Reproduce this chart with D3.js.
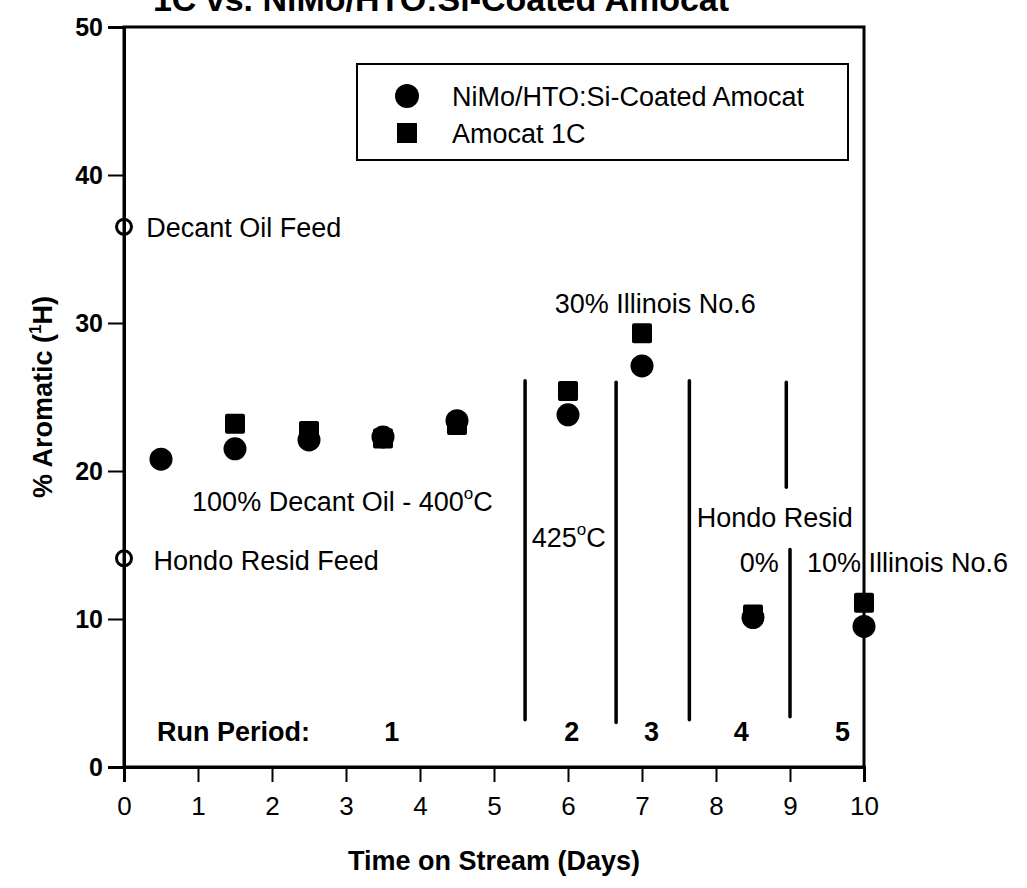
<!DOCTYPE html>
<html>
<head>
<meta charset="utf-8">
<script src="https://cdn.jsdelivr.net/npm/d3@7"></script>
<style>
  html, body { margin: 0; padding: 0; background: #fff; }
  svg { display: block; font-family: "Liberation Sans", Arial, sans-serif; }
</style>
</head>
<body>
<svg id="chart" width="1027" height="888"></svg>
<script>
// ---- data ----
const xTicks = [0, 1, 2, 3, 4, 5, 6, 7, 8, 9, 10];
const yTicks = [0, 10, 20, 30, 40, 50];

const nimoDays = [0.5, 1.5, 2.5, 3.5, 4.5, 6, 7, 8.5, 10];
const nimoValues = [20.8, 21.5, 22.1, 22.3, 23.4, 23.8, 27.1, 10.1, 9.5];

const amocatDays = [1.5, 2.5, 3.5, 4.5, 6, 7, 8.5, 10];
const amocatValues = [23.2, 22.7, 22.2, 23.1, 25.4, 29.3, 10.3, 11.1];

const feedNames = ["Decant Oil Feed", "Hondo Resid Feed"];
const feedDays = [0, 0];
const feedValues = [36.5, 14.1];

// vertical separators: x, y top, y bottom
const sepX = [5.42, 6.65, 7.64, 8.95, 9.0];
const sepTop = [26.1, 26.0, 26.1, 26.0, 14.7];
const sepBottom = [3.2, 3.0, 3.2, 18.9, 3.4];

const annoText = ["Decant Oil Feed", "Hondo Resid Feed", "100% Decant Oil - 400", "425", "30% Illinois No.6", "Hondo Resid", "0%", "10% Illinois No.6"];
const annoX = [0.3, 0.4, 0.92, 5.51, 5.82, 7.74, 8.32, 9.23];
const annoY = [35.8, 13.3, 17.3, 14.85, 30.7, 16.2, 13.2, 13.2];
const annoDegC = [false, false, true, true, false, false, false, false];

const periodLabels = ["1", "2", "3", "4", "5"];
const periodX = [3.62, 6.05, 7.13, 8.34, 9.71];
const periodY = 1.75;

const legendNames = ["NiMo/HTO:Si-Coated Amocat", "Amocat 1C"];

// ---- layout ----
const svg = d3.select("#chart");
const x = d3.scaleLinear().domain([0, 10]).range([124, 864]);
const y = d3.scaleLinear().domain([0, 50]).range([767, 27]);

// title (cut off at top, as in the reference)
svg.append("text")
  .attr("x", 441).attr("y", 11)
  .attr("text-anchor", "middle")
  .attr("font-size", 34).attr("font-weight", "bold")
  .text("1C vs. NiMo/HTO:Si-Coated Amocat");

// frame
svg.append("rect")
  .attr("x", x(0)).attr("y", y(50))
  .attr("width", x(10) - x(0)).attr("height", y(0) - y(50))
  .attr("fill", "none").attr("stroke", "#000").attr("stroke-width", 3);

// axes
const xAxis = svg.append("g").attr("transform", `translate(0,${y(0)})`)
  .call(d3.axisBottom(x).tickValues(xTicks).tickSize(15).tickPadding(15).tickFormat(d3.format("d")));
const yAxis = svg.append("g").attr("transform", `translate(${x(0)},0)`)
  .call(d3.axisLeft(y).tickValues(yTicks).tickSize(16).tickPadding(5).tickFormat(d3.format("d")));
[xAxis, yAxis].forEach(g => {
  g.select(".domain").attr("stroke-width", 3);
  g.selectAll(".tick line").attr("stroke-width", 2);
  g.selectAll(".tick text").attr("fill", "#000")
    .attr("font-family", "Liberation Sans, Arial, sans-serif");
});
xAxis.selectAll(".tick text").attr("font-size", 26);
yAxis.selectAll(".tick text").attr("font-size", 25).attr("font-weight", "bold");

// axis titles
svg.append("text")
  .attr("x", 494).attr("y", 870)
  .attr("text-anchor", "middle")
  .attr("font-size", 27).attr("font-weight", "bold")
  .text("Time on Stream (Days)");

const yt = svg.append("text")
  .attr("transform", `translate(52,${397}) rotate(-90)`)
  .attr("text-anchor", "middle")
  .attr("font-size", 27).attr("font-weight", "bold");
yt.append("tspan").text("% Aromatic (");
yt.append("tspan").attr("font-size", 17).attr("dy", -11).text("1");
yt.append("tspan").attr("dy", 11).text("H)");

// separators
svg.selectAll("line.sep").data(sepX).enter().append("line")
  .attr("class", "sep")
  .attr("x1", d => x(d)).attr("x2", d => x(d))
  .attr("y1", (d, i) => y(sepTop[i])).attr("y2", (d, i) => y(sepBottom[i]))
  .attr("stroke", "#000").attr("stroke-width", 3.5).attr("stroke-linecap", "round");

// annotations
annoText.forEach((t, i) => {
  const tx = svg.append("text")
    .attr("x", x(annoX[i])).attr("y", y(annoY[i]))
    .attr("font-size", 27);
  tx.append("tspan").text(t);
  if (annoDegC[i]) {
    tx.append("tspan").attr("font-size", 17).attr("dy", -12).text("o");
    tx.append("tspan").attr("dy", 12).text("C");
  }
});

// run period labels
svg.append("text")
  .attr("x", 157).attr("y", y(periodY))
  .attr("font-size", 27).attr("font-weight", "bold")
  .text("Run Period:");
svg.selectAll("text.period").data(periodLabels).enter().append("text")
  .attr("class", "period")
  .attr("x", (d, i) => x(periodX[i])).attr("y", y(periodY))
  .attr("text-anchor", "middle")
  .attr("font-size", 27).attr("font-weight", "bold")
  .text(d => d);

// feed points (open circles)
svg.selectAll("circle.feed").data(feedValues).enter().append("circle")
  .attr("class", "feed")
  .attr("cx", (d, i) => x(feedDays[i])).attr("cy", d => y(d))
  .attr("r", 7.5).attr("fill", "none").attr("stroke", "#000").attr("stroke-width", 3);

// Amocat squares
const sq = 20;
svg.selectAll("rect.amocat").data(amocatValues).enter().append("rect")
  .attr("class", "amocat")
  .attr("x", (d, i) => x(amocatDays[i]) - sq / 2).attr("y", d => y(d) - sq / 2)
  .attr("width", sq).attr("height", sq).attr("rx", 2)
  .attr("fill", "#000");

// NiMo circles
svg.selectAll("circle.nimo").data(nimoValues).enter().append("circle")
  .attr("class", "nimo")
  .attr("cx", (d, i) => x(nimoDays[i])).attr("cy", d => y(d))
  .attr("r", 11.5).attr("fill", "#000");

// legend
svg.append("rect")
  .attr("x", 357).attr("y", 64).attr("width", 491).attr("height", 96)
  .attr("fill", "#fff").attr("stroke", "#000").attr("stroke-width", 2);
svg.append("circle").attr("cx", 407).attr("cy", 96).attr("r", 12).attr("fill", "#000");
svg.append("rect").attr("x", 397).attr("y", 123).attr("width", 20).attr("height", 20).attr("fill", "#000");
legendNames.forEach((n, i) => {
  svg.append("text")
    .attr("x", 452).attr("y", 106 + i * 37)
    .attr("font-size", 27)
    .text(n);
});
</script>
</body>
</html>
